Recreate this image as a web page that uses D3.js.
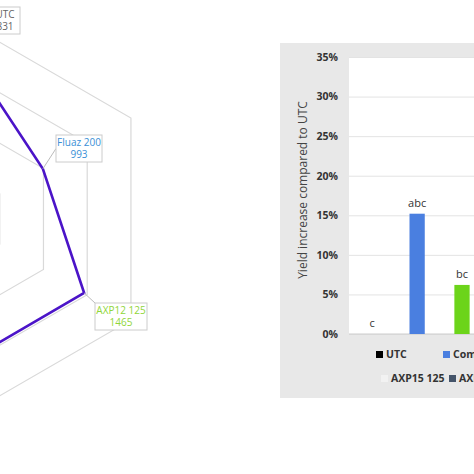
<!DOCTYPE html>
<html><head><meta charset="utf-8">
<script src="https://d3js.org/d3.v7.min.js"></script>
<style>body{margin:0;background:#fff}svg{display:block}</style>
</head><body>
<script>
// Radar data (only part visible)
const radarAxes = ["UTC","Fluaz 200","AXP12 125","AXP15 125","Other A","Other B"];
const radarValues = [1800,993,1465,1470,1000,1000];
const radarLabelValues = ["831","993","1465"];
const radarRings = [500,1000,1500,2000];
// Bar data
const barCats = ["UTC","Co","Green","D","E"];
const barValues = [0,0.152,0.062,0,0];
const barLetters = ["c","abc","bc","",""];
const barColors = ["#000","#4a7fe0","#6cd41a","#ddd","#44546a"];
const yTicks = [0,0.05,0.1,0.15,0.2,0.25,0.3,0.35];
const legend1 = ["UTC","Commercial"];
const legend2 = ["AXP15 125","AXP12 125"];

const W=474,H=474;
const svg=d3.select("body").append("svg").attr("width",W).attr("height",H);

// ---- Radar
const cx=-44, cy=219;
const r=d3.scaleLinear().domain([0,1000]).range([0,101]);
const ang=i=>i*Math.PI/3;
const pt=(i,v)=>[cx+r(v)*Math.sin(ang(i)), cy-r(v)*Math.cos(ang(i))];
const g=svg.append("g");
radarRings.forEach(v=>{
  g.append("path").attr("d",d3.line()(d3.range(6).map(i=>pt(i,v)))+"Z")
   .attr("fill","none").attr("stroke","#d9d9d9").attr("stroke-width",1.2);
});
g.append("path").attr("d",d3.line()(radarValues.map((v,i)=>pt(i,v)))+"Z")
 .attr("fill","none").attr("stroke","#4b14c8").attr("stroke-width",2.6).attr("stroke-linejoin","miter");
function callout(x,y,w,h,lines,color,px,py){
  g.append("line").attr("x1",px).attr("y1",py).attr("x2",x+(px>x+w?w:0)+(px<x?0:4)).attr("y2",py<y?y:y+h/2)
   .attr("stroke","#bbb");
  g.append("rect").attr("x",x).attr("y",y).attr("width",w).attr("height",h)
   .attr("fill","#fff").attr("stroke","#ccc");
  lines.forEach((t,k)=>g.append("text").attr("x",x+w/2).attr("y",y+11+k*12)
   .attr("text-anchor","middle").attr("font-family","Open Sans, sans-serif").attr("font-size",10)
   .attr("fill",color).text(t));
}
const pf=pt(1,radarValues[1]), pa=pt(2,radarValues[2]);
callout(56,135,46,27,["Fluaz 200",radarLabelValues[1]],"#3a8fd6",pf[0],pf[1]);
callout(95,303,52,27,["AXP12 125",radarLabelValues[2]],"#8fd63a",pa[0],pa[1]);
callout(-10,7,30,27,["UTC",radarLabelValues[0]],"#666",0,34);

// ---- Bar panel
svg.append("rect").attr("x",280).attr("y",43).attr("width",200).attr("height",355).attr("fill","#e8e8e8");
const x0=349,x1=480,y0=334,y1=57;
svg.append("rect").attr("x",x0).attr("y",y1).attr("width",x1-x0).attr("height",y0-y1).attr("fill","#fff");
const y=d3.scaleLinear().domain([0,0.35]).range([y0,y1]);
const x=d3.scaleBand().domain(barCats).range([357,357+42*5]).paddingInner(0.66).paddingOuter(0.17);
const ya=svg.append("g").attr("transform",`translate(${x0},0)`)
 .call(d3.axisLeft(y).tickValues(yTicks).tickFormat(d3.format(".0%")).tickSize(-(x1-x0)).tickPadding(11));
ya.select(".domain").remove();
ya.selectAll(".tick line").attr("stroke","#e3e3e3");
ya.selectAll("text").attr("font-family","Open Sans, sans-serif").attr("font-weight","bold").attr("font-size",10.5).attr("fill","#333");
svg.append("line").attr("x1",x0).attr("x2",x1).attr("y1",y0).attr("y2",y0).attr("stroke","#ccc");
svg.selectAll(".bar").data(barValues).join("rect")
 .attr("x",(d,i)=>x(barCats[i])).attr("width",x.bandwidth())
 .attr("y",d=>y(d)).attr("height",d=>y0-y(d)).attr("fill",(d,i)=>barColors[i]);
svg.selectAll(".lt").data(barLetters).join("text")
 .attr("x",(d,i)=>x(barCats[i])+x.bandwidth()/2).attr("y",(d,i)=>y(barValues[i])-7)
 .attr("text-anchor","middle").attr("font-family","Open Sans, sans-serif").attr("font-size",11).attr("fill","#333").text(d=>d);
svg.append("text").attr("transform","translate(307,190) rotate(-90)").attr("text-anchor","middle")
 .attr("font-family","Open Sans, sans-serif").attr("font-size",12).attr("fill","#444").text("Yield increase compared to UTC");
// legend
const lf="Open Sans, sans-serif";
[[legend1,358,[barColors[0],barColors[1]],[376,443]],[legend2,382,["#f2f2f2",barColors[4]],[381,449]]].forEach(([names,yy,cols,xs])=>{
  names.forEach((n,k)=>{
    svg.append("rect").attr("x",xs[k]).attr("y",yy-7).attr("width",7).attr("height",7).attr("fill",cols[k]);
    svg.append("text").attr("x",xs[k]+10).attr("y",yy).attr("font-family",lf).attr("font-weight","bold")
      .attr("font-size",10.5).attr("fill","#333").text(n);
  });
});
</script>
</body></html>
